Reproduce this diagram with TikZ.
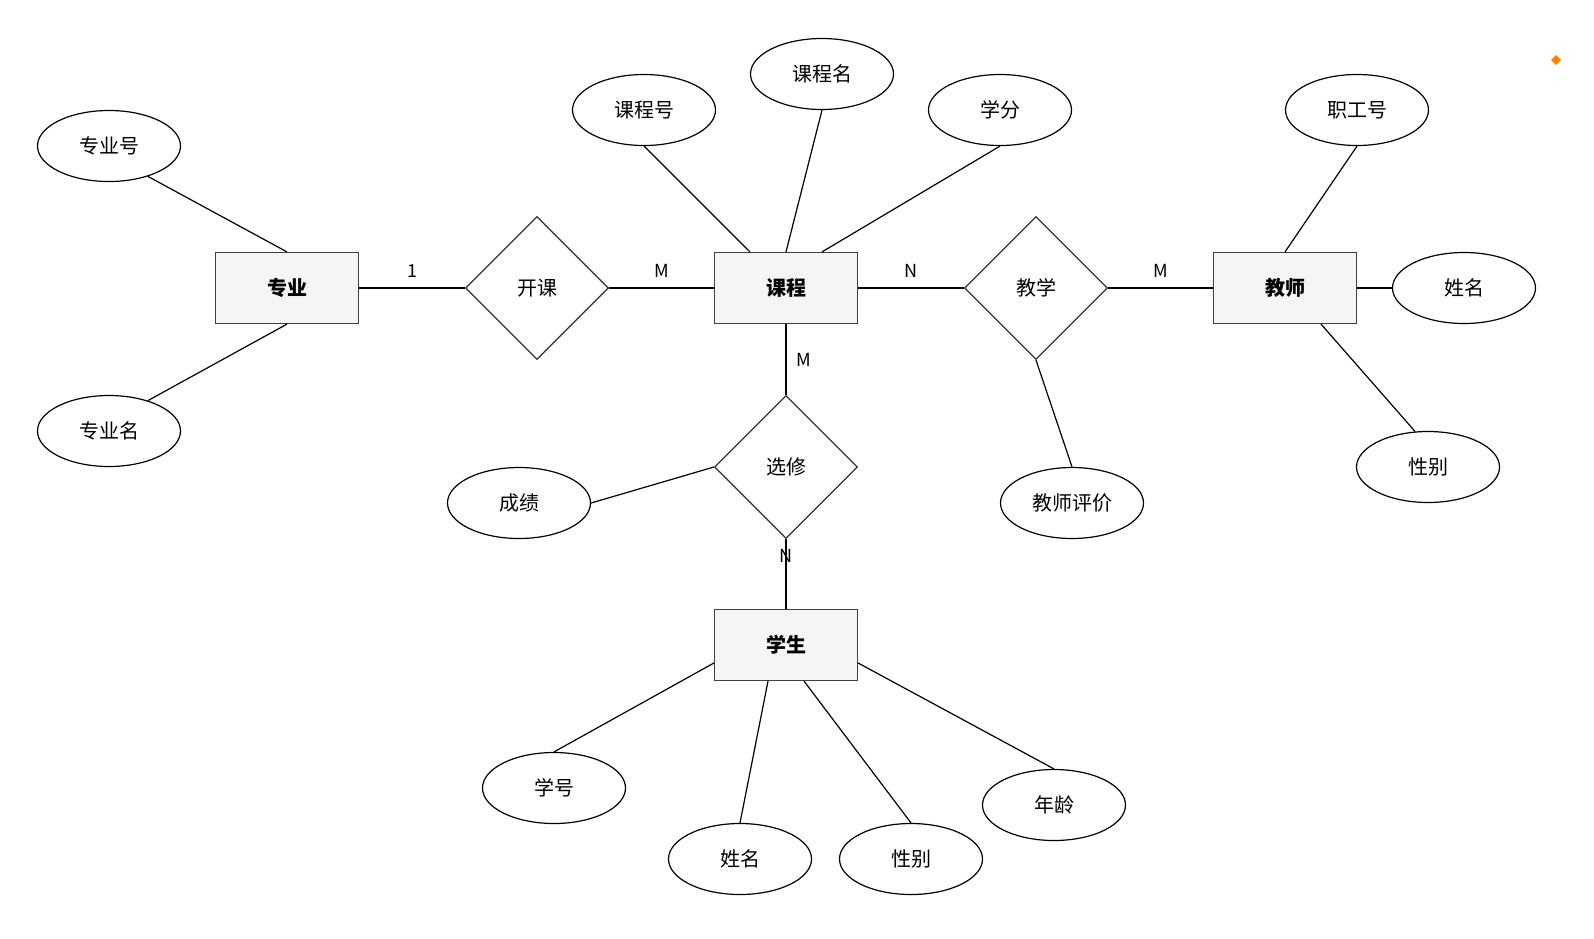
\documentclass[tikz,border=0pt]{standalone}
\usepackage{fontspec}
\setmainfont{Noto Sans CJK SC}
\usetikzlibrary{shapes.geometric}
\begin{document}
\begin{tikzpicture}[x=0.5pt,y=-0.5pt,
ent/.style={draw=black!75,fill=black!4,minimum width=71.5pt,minimum height=35.5pt,font=\fontsize{10}{12}\selectfont\bfseries,line width=0.6pt},
rel/.style={draw=black!80,diamond,minimum width=71.5pt,minimum height=71.5pt,inner sep=0pt,font=\fontsize{10}{12}\selectfont,line width=0.6pt},
att/.style={draw=black,ellipse,minimum width=71.5pt,minimum height=35.5pt,inner sep=0pt,font=\fontsize{10}{12}\selectfont,line width=0.6pt},
lab/.style={font=\fontsize{9}{11}\selectfont},
every path/.style={line width=0.6pt}]
\useasboundingbox (0,0) rectangle (1594,938);
\node[ent] (zy) at (287,288) {专业};
\node[ent] (kc) at (786,288) {课程};
\node[ent] (js) at (1285,288) {教师};
\node[ent] (xs) at (786,645) {学生};
\node[rel] (kk) at (537,288) {开课};
\node[rel] (jx) at (1036,288) {教学};
\node[rel] (xx) at (786,467) {选修};
\node[att] (zyh) at (109,146) {专业号};
\node[att] (zym) at (109,431) {专业名};
\node[att] (kch) at (644,110) {课程号};
\node[att] (kcm) at (822,74) {课程名};
\node[att] (xf) at (1000,110) {学分};
\node[att] (zgh) at (1357,110) {职工号};
\node[att] (jxm) at (1464,288) {姓名};
\node[att] (jxb) at (1428,467) {性别};
\node[att] (jspj) at (1072,503) {教师评价};
\node[att] (cj) at (519,503) {成绩};
\node[att] (xh) at (554,788) {学号};
\node[att] (sxm) at (740,859) {姓名};
\node[att] (sxb) at (911,859) {性别};
\node[att] (nl) at (1054,805) {年龄};
\draw (zyh.-38) -- (zy.north);
\draw (zym.38) -- (zy.south);
\draw (zy) -- (kk) -- (kc) -- (jx) -- (js);
\draw (kc) -- (xx) -- (xs);
\draw (kch.south) -- ([xshift=-18pt]kc.north);
\draw (kcm.south) -- (kc.north);
\draw (xf.south) -- ([xshift=18pt]kc.north);
\draw (zgh.south) -- (js.north);
\draw (jxm) -- (js);
\draw (jxb.110) -- ([xshift=18pt]js.south);
\draw (jx.south) -- (jspj.north);
\draw (cj.east) -- (xx.west);
\draw (xh.north) -- ([yshift=-9pt]xs.west);
\draw (sxm.north) -- ([xshift=-9pt]xs.south);
\draw (sxb.north) -- ([xshift=9pt]xs.south);
\draw (nl.north) -- ([yshift=-9pt]xs.east);
\node[lab] (l1) at (412,271) {1};
\node[lab] (l2) at (662,271) {M};
\node[lab] (l3) at (911,271) {N};
\node[lab] (l4) at (1161,271) {M};
\node[lab] (l5) at (804,360) {M};
\node[lab] (l6) at (786,556) {N};
\fill[orange] (1556,55) -- (1561,60) -- (1556,65) -- (1551,60) -- cycle;
\end{tikzpicture}
\end{document}
